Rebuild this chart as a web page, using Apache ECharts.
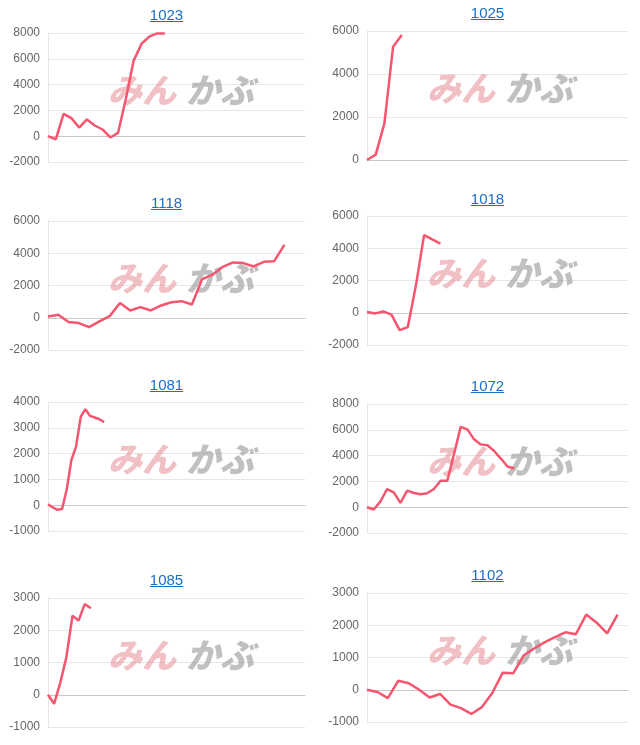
<!DOCTYPE html>
<html><head><meta charset="utf-8">
<script src="https://cdn.jsdelivr.net/npm/echarts@6/dist/echarts.min.js"></script>
<style>
body{margin:0;background:#fff;font-family:"Liberation Sans",Arial,sans-serif}
#c{position:absolute;left:0;top:0;width:640px;height:745px}
.t{position:absolute;font-size:15px;color:#1a6fc4;text-decoration:underline;transform:translateX(-50%);white-space:nowrap;font-family:"Liberation Sans",Arial,sans-serif}
</style></head><body>
<div id="c"></div>
<script>
const titles = ['1023','1025','1118','1018','1081','1072','1085','1102'];
const s1023 = [0,-250,1730,1400,670,1300,830,520,-100,260,2900,5860,7150,7720,7970,7970];
const s1025 = [0,250,1700,5270,5810];
const s1118 = [80,180,-270,-330,-580,-230,100,920,450,660,450,760,960,1030,820,2400,2670,3160,3430,3390,3180,3470,3510,4520];
const s1018 = [40,-40,80,-120,-1080,-890,1700,4820,4550,4290];
const s1081 = [30,-80,-180,-150,600,1750,2270,3420,3720,3460,3400,3330,3220];
const s1072 = [0,-180,430,1410,1150,330,1280,1100,1000,1080,1410,2050,2050,4100,6230,6030,5260,4870,4800,4360,3770,3150,3000];
const s1085 = [0,-280,370,1160,2450,2300,2810,2680];
const s1102 = [0,-70,-260,280,200,0,-240,-130,-460,-570,-750,-540,-100,530,510,1060,1280,1470,1630,1780,1720,2330,2080,1750,2330];
const series = [s1023,s1025,s1118,s1018,s1081,s1072,s1085,s1102];
const slots = [34,31,26,33,56,40,43,26];
const yMin = [-2000,0,-2000,-2000,-1000,-2000,-1000,-1000];
const yMax = [8000,6000,6000,6000,4000,8000,3000,3000];
const yStep = [2000,2000,2000,2000,1000,2000,1000,1000];
const tops = [33,31,221,216,402,404,598,593];
const titleY = [6,4,194,190,376,377,571,566];

const chart = echarts.init(document.getElementById('c'));
const grid=[],xAxis=[],yAxis=[],ser=[],graphic=[];
for(let i=0;i<8;i++){
  const left = i%2===0?48:367, width = i%2===0?257:261;
  grid.push({left:left,top:tops[i],width:width,height:129});
  const cats=[];for(let k=0;k<slots[i];k++)cats.push(String(k));
  xAxis.push({type:'category',gridIndex:i,data:cats,boundaryGap:false,
    axisLine:{onZero:true,lineStyle:{color:'#c8c8c8'}},axisTick:{show:false},axisLabel:{show:false},splitLine:{show:false}});
  yAxis.push({type:'value',gridIndex:i,min:yMin[i],max:yMax[i],interval:yStep[i],
    axisLine:{show:true,lineStyle:{color:'#e6e6e6'}},axisTick:{show:false},
    axisLabel:{color:'#666',fontSize:12,margin:8,fontFamily:'Liberation Sans',formatter:v=>String(v)},splitLine:{lineStyle:{color:'#e6e6e6'}}});
  ser.push({type:'line',xAxisIndex:i,yAxisIndex:i,data:series[i],symbol:'none',
    lineStyle:{color:'#f5566f',width:2.5},z:3});
  const x0 = left + 60, cy = tops[i] + 40;
  graphic.push({type:'text',left:x0,top:cy,z:1,style:{text:'みん',fontSize:34,fontWeight:900,fontStyle:'italic',fill:'rgba(230,140,150,0.55)',fontFamily:'Noto Sans CJK JP'}});
  graphic.push({type:'text',left:x0+78,top:cy,z:1,style:{text:'かぶ',fontSize:34,fontWeight:900,fontStyle:'italic',fill:'rgba(150,150,150,0.6)',fontFamily:'Noto Sans CJK JP'}});
  const d=document.createElement('div');d.className='t';d.textContent=titles[i];
  d.style.left=(left+width/2-10)+'px';d.style.top=titleY[i]+'px';document.body.appendChild(d);
}
chart.setOption({animation:false,grid,xAxis,yAxis,series:ser,graphic});
</script></body></html>
